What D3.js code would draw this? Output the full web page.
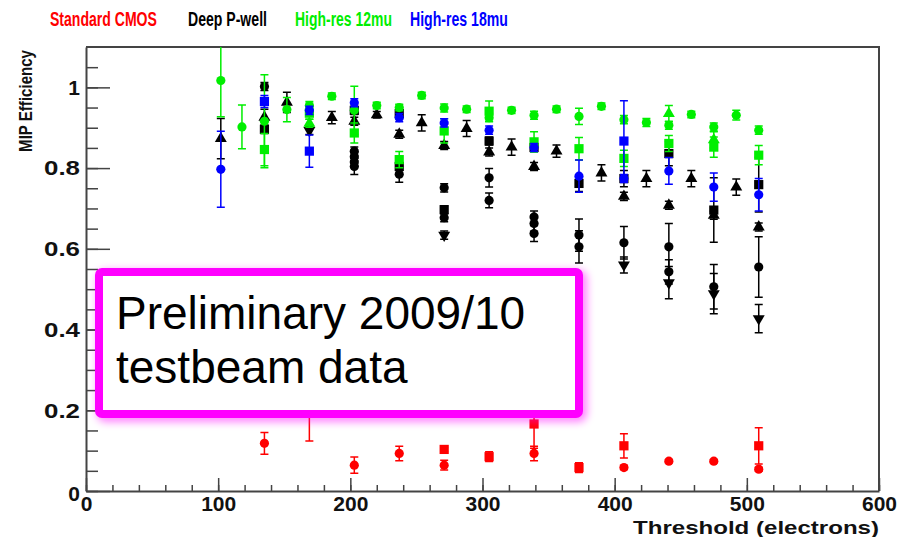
<!DOCTYPE html>
<html>
<head>
<meta charset="utf-8">
<script src="https://cdn.jsdelivr.net/npm/d3@7"></script>
<style>
  html, body { margin: 0; padding: 0; background: #fff; }
  svg { display: block; font-family: "Liberation Sans", Arial, sans-serif; }
</style>
</head>
<body>
<svg id="chart" width="900" height="537"></svg>
<script>
// Legend entries (sensor types) and their colours
const legendLabels = ["Standard CMOS", "Deep P-well", "High-res 12mu", "High-res 18mu"];
const legendColors = ["#ff0000", "#000000", "#00ee00", "#0000ff"];

// Axis ticks
const xTicks = [0, 100, 200, 300, 400, 500, 600];
const yTicks = [0, 0.2, 0.4, 0.6, 0.8, 1];
const yTickLabels = ["0", "0.2", "0.4", "0.6", "0.8", "1"];

// Measurements: [threshold (electrons), MIP efficiency, error]
const redCircles = [[135,0.118,0.027],[203,0.064,0.02],[237,0.093,0.018],[271,0.064,0.012],[339,0.093,0.018],[407,0.058,0.005],[441,0.074,0.004],[475,0.074,0.004],[509,0.054,0.005]];
const redSquares = [[169,0.200,0.076],[271,0.103,0.005],[305,0.085,0.012],[339,0.166,0.06],[373,0.058,0.012],[407,0.112,0.03],[509,0.112,0.045]];

const blackCircles = [[135,1.002,0.01],[203,0.842,0.01],[203,0.828,0.01],[203,0.815,0.01],[203,0.804,0.02],[237,0.785,0.02],[271,0.751,0.01],[271,0.677,0.01],[305,0.776,0.023],[305,0.720,0.018],[339,0.679,0.015],[339,0.663,0.02],[339,0.638,0.02],[373,0.634,0.04],[373,0.605,0.04],[407,0.615,0.04],[441,0.605,0.058],[441,0.543,0.03],[475,0.506,0.055],[509,0.555,0.075]];
const blackSquares = [[135,0.896,0.01],[203,0.943,0.01],[237,0.935,0.01],[237,0.804,0.01],[271,0.697,0.01],[305,0.867,0.01],[339,0.851,0.01],[373,0.762,0.02],[407,0.774,0.02],[441,0.836,0.03],[475,0.696,0.08],[509,0.759,0.068]];
const blackTriUp = [[102,0.873,0.05],[135,0.926,0.02],[152,0.963,0.025],[186,0.925,0.015],[203,0.916,0.01],[220,0.932,0.008],[237,0.884,0.01],[254,0.912,0.02],[271,0.856,0.01],[288,0.898,0.02],[305,0.840,0.01],[322,0.852,0.02],[339,0.804,0.01],[356,0.842,0.015],[390,0.788,0.02],[407,0.730,0.01],[424,0.774,0.02],[441,0.708,0.01],[458,0.774,0.02],[475,0.683,0.01],[492,0.753,0.02],[509,0.654,0.01]];
const blackTriDown = [[169,0.893,0.01],[271,0.634,0.01],[407,0.560,0.02],[441,0.516,0.04],[475,0.489,0.05],[509,0.427,0.035]];

const greenCircles = [[102,1.017,0.09],[118,0.902,0.054],[135,0.916,0.115],[152,0.945,0.03],[169,0.955,0.01],[186,0.978,0.008],[203,0.943,0.06],[220,0.955,0.008],[237,0.950,0.008],[254,0.980,0.008],[271,0.949,0.01],[288,0.946,0.008],[305,0.925,0.01],[322,0.943,0.008],[339,0.931,0.01],[356,0.946,0.008],[373,0.928,0.02],[390,0.953,0.008],[407,0.920,0.01],[424,0.913,0.01],[441,0.906,0.01],[458,0.933,0.008],[475,0.902,0.01],[492,0.931,0.012],[509,0.894,0.01]];
const greenSquares = [[135,0.846,0.04],[169,0.936,0.015],[203,0.887,0.025],[237,0.821,0.02],[271,0.892,0.03],[305,0.941,0.025],[339,0.865,0.025],[373,0.848,0.028],[407,0.824,0.02],[441,0.861,0.02],[475,0.852,0.025],[509,0.832,0.024]];
const greenTriUp = [[169,0.911,0.01],[441,0.935,0.02],[475,0.870,0.02]];

const blueCircles = [[102,0.797,0.094],[169,0.943,0.01],[203,0.962,0.01],[237,0.925,0.01],[271,0.912,0.01],[305,0.894,0.01],[339,0.851,0.01],[373,0.780,0.04],[407,0.774,0.01],[441,0.793,0.033],[475,0.753,0.035],[509,0.734,0.04]];
const blueSquares = [[135,0.965,0.015],[169,0.842,0.04],[407,0.867,0.1]];

// Draw order: later series sit on top
const series = [
  { pts: redCircles,   color: legendColors[0], shape: "circle" },
  { pts: redSquares,   color: legendColors[0], shape: "square" },
  { pts: blackCircles, color: legendColors[1], shape: "circle" },
  { pts: blackSquares, color: legendColors[1], shape: "square" },
  { pts: blackTriUp,   color: legendColors[1], shape: "triUp" },
  { pts: blackTriDown, color: legendColors[1], shape: "triDown" },
  { pts: greenSquares, color: legendColors[2], shape: "square" },
  { pts: greenTriUp,   color: legendColors[2], shape: "triUp" },
  { pts: greenCircles, color: legendColors[2], shape: "circle" },
  { pts: blueSquares,  color: legendColors[3], shape: "square" },
  { pts: blueCircles,  color: legendColors[3], shape: "circle" }
];

const svg = d3.select("#chart");
const plotLeft = 86, plotRight = 879, plotTop = 47, plotBottom = 491;

const x = d3.scaleLinear().domain([0, 600]).range([plotLeft, plotRight]);
const y = d3.scaleLinear().domain([0, 1.1]).range([plotBottom, plotTop]);

// Squeeze or stretch a text horizontally (in its own frame) to a given width
function fitText(sel, width, baseTransform) {
  sel.each(function () {
    const natural = this.getComputedTextLength();
    const sx = width / natural;
    d3.select(this).attr("transform", `${baseTransform || ""} scale(${sx},1)`);
  });
}

const defs = svg.append("defs");
defs.append("clipPath").attr("id", "plotClip")
  .append("rect").attr("x", plotLeft).attr("y", plotTop)
  .attr("width", plotRight - plotLeft).attr("height", plotBottom - plotTop);
const glow = defs.append("filter").attr("id", "glow")
  .attr("x", "-10%").attr("y", "-20%").attr("width", "120%").attr("height", "140%");
glow.append("feGaussianBlur").attr("stdDeviation", 4);

// Frame (top and right edges)
svg.append("path")
  .attr("d", `M${plotLeft},${plotTop}H${plotRight}V${plotBottom}`)
  .attr("fill", "none").attr("stroke", "#444").attr("stroke-width", 2);

// Minor ticks
svg.append("g").attr("transform", `translate(0,${plotBottom})`)
  .call(d3.axisBottom(x).tickValues(d3.range(0, 601, 20)).tickSize(-6).tickFormat(""))
  .call(g => g.select(".domain").remove())
  .call(g => g.selectAll("line").attr("stroke", "#444").attr("stroke-width", 1.5));
svg.append("g").attr("transform", `translate(${plotLeft},0)`)
  .call(d3.axisLeft(y).tickValues(d3.range(0, 22).map(i => i * 0.05)).tickSize(-12).tickFormat(""))
  .call(g => g.select(".domain").remove())
  .call(g => g.selectAll("line").attr("stroke", "#444").attr("stroke-width", 1.5));

// Major axes
const xAxis = svg.append("g").attr("transform", `translate(0,${plotBottom})`)
  .call(d3.axisBottom(x).tickValues(xTicks).tickSize(-13).tickSizeOuter(0).tickPadding(6).tickFormat(d3.format("d")));
const yAxis = svg.append("g").attr("transform", `translate(${plotLeft},0)`)
  .call(d3.axisLeft(y).tickValues(yTicks).tickSize(-24).tickSizeOuter(0).tickPadding(6)
    .tickFormat((d, i) => yTickLabels[i]));
[xAxis, yAxis].forEach(a => {
  a.select(".domain").attr("stroke", "#444").attr("stroke-width", 2);
  a.selectAll("line").attr("stroke", "#444").attr("stroke-width", 1.5);
  a.selectAll("text").attr("font-size", 21).attr("font-weight", "bold").attr("fill", "#111")
    .attr("font-family", "'Liberation Sans', Arial, sans-serif");
});
xAxis.selectAll("text").attr("dy", "0.68em");
yAxis.selectAll("text").filter(d => d > 0 && d < 1).attr("textLength", 36).attr("lengthAdjust", "spacingAndGlyphs");
yAxis.selectAll("text").filter(d => d === 0).attr("dy", "0.45em");

// Axis titles
svg.append("text")
  .attr("x", plotRight).attr("y", 534).attr("text-anchor", "end")
  .attr("font-size", 19).attr("font-weight", "bold").attr("fill", "#111")
  .attr("textLength", 246).attr("lengthAdjust", "spacingAndGlyphs")
  .text("Threshold (electrons)");
svg.append("text")
  .attr("text-anchor", "end")
  .attr("font-size", 18).attr("font-weight", "bold").attr("fill", "#111")
  .text("MIP Efficiency")
  .call(fitText, 102, "translate(32,50) rotate(-90)");

// Legend (condensed bold labels)
const legendX = [50, 188, 295, 410];
const legendW = [107, 79, 97, 98];
svg.append("g").selectAll("text").data(legendLabels).join("text")
  .attr("font-size", 20).attr("font-weight", "bold")
  .attr("fill", (d, i) => legendColors[i])
  .text(d => d)
  .each(function (d, i) {
    fitText(d3.select(this), legendW[i], `translate(${legendX[i]},26)`);
  });

// Data points with error bars
const plot = svg.append("g").attr("clip-path", "url(#plotClip)");
const cap = 4;
const symTriUp = d3.symbol().type(d3.symbolTriangle).size(62);
series.forEach(s => {
  const g = plot.append("g");
  const pts = s.pts.map(p => ({ t: p[0], v: p[1], e: p[2] }));
  g.selectAll("path.err").data(pts).join("path").attr("class", "err")
    .attr("d", d => {
      const cx = x(d.t), y1 = y(d.v + d.e), y2 = y(d.v - d.e);
      return `M${cx},${y1}V${y2}M${cx - cap},${y1}H${cx + cap}M${cx - cap},${y2}H${cx + cap}`;
    })
    .attr("stroke", s.color).attr("stroke-width", 1.5).attr("fill", "none");
  const m = g.selectAll("g.m").data(pts).join("g").attr("class", "m")
    .attr("transform", d => `translate(${x(d.t)},${y(d.v)})`);
  if (s.shape === "circle") {
    m.append("circle").attr("r", 4.6).attr("fill", s.color);
  } else if (s.shape === "square") {
    m.append("rect").attr("x", -4.6).attr("y", -4.6).attr("width", 9.2).attr("height", 9.2).attr("fill", s.color);
  } else {
    m.append("path").attr("d", symTriUp())
      .attr("transform", s.shape === "triDown" ? "rotate(180)" : null)
      .attr("fill", s.color);
  }
});

// Annotation box
const bx = 99, by = 272, bw = 480, bh = 142;
svg.append("rect")
  .attr("x", bx + 3).attr("y", by + 3).attr("width", bw).attr("height", bh)
  .attr("rx", 3).attr("fill", "none").attr("stroke", "#ff00ff").attr("stroke-width", 9)
  .attr("opacity", 0.55).attr("filter", "url(#glow)");
svg.append("rect")
  .attr("x", bx).attr("y", by).attr("width", bw).attr("height", bh)
  .attr("rx", 3).attr("fill", "#fff").attr("stroke", "#ff00ff").attr("stroke-width", 8);
const note = svg.append("text").attr("font-size", 46).attr("fill", "#000")
  .attr("font-family", "'Liberation Sans', Arial, sans-serif");
note.append("tspan").attr("x", 116).attr("y", 329).text("Preliminary 2009/10");
note.append("tspan").attr("x", 116).attr("y", 383).text("testbeam data");
</script>
</body>
</html>
